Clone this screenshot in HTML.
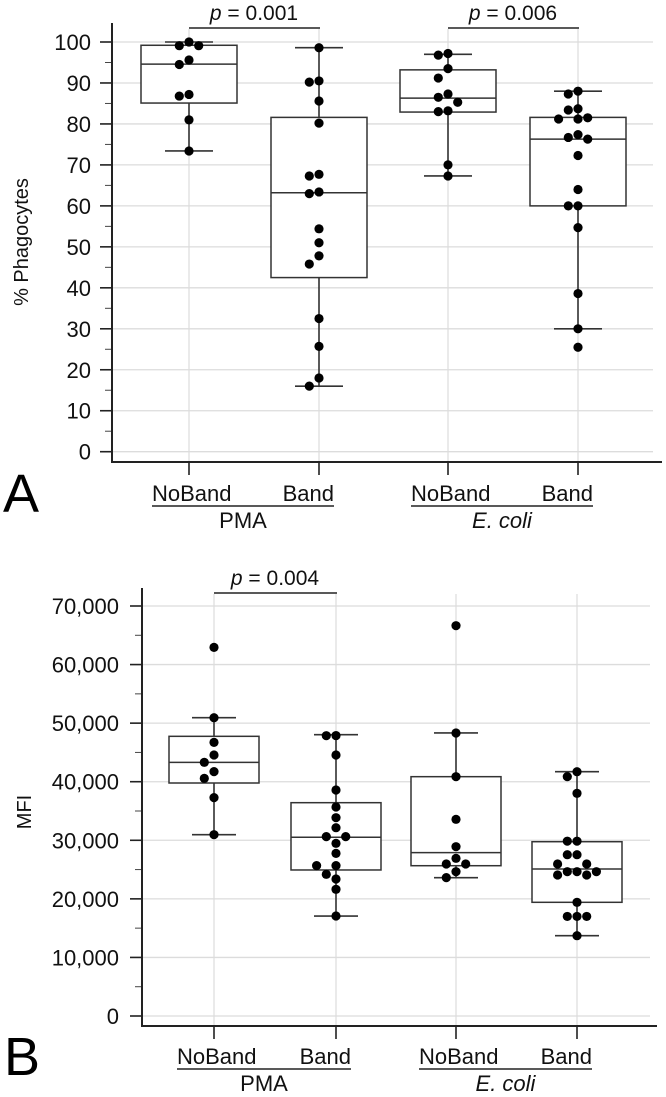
<!DOCTYPE html>
<html><head><meta charset="utf-8">
<style>
html,body{margin:0;padding:0;background:#fff;}
svg{display:block;font-family:"Liberation Sans",Arial,sans-serif;}
</style></head>
<body>
<svg id="chart" width="666" height="1097" viewBox="0 0 666 1097" xmlns="http://www.w3.org/2000/svg"></svg>
<script>
// ---- Data ----
const categories = ["NoBand", "Band", "NoBand", "Band"];
const groups = ["PMA", "E. coli"];
// Panel A: % Phagocytes
const aTicks = [0,10,20,30,40,50,60,70,80,90,100];
const aBoxQ1 = [85.1, 42.5, 82.9, 60.0];
const aBoxMed = [94.6, 63.2, 86.3, 76.3];
const aBoxQ3 = [99.2, 81.6, 93.2, 81.6];
const aWhLo = [73.4, 16.0, 67.3, 30.0];
const aWhHi = [100.0, 98.6, 97.0, 88.0];
const aPts0 = [100, 99.1, 99.1, 95.6, 94.5, 87.2, 86.8, 81.0, 73.4];
const aPts1 = [98.6, 90.5, 90.2, 85.6, 80.2, 67.7, 67.3, 63.4, 63.0, 54.4, 51.0, 47.8, 45.8, 32.5, 25.7, 18.0, 16.0];
const aPts2 = [97.2, 96.8, 93.5, 91.2, 87.3, 86.5, 85.3, 83.2, 83.0, 70.0, 67.3];
const aPts3 = [88.0, 87.3, 83.7, 83.4, 81.5, 81.2, 81.2, 77.4, 76.7, 76.3, 72.3, 64.0, 60.0, 60.0, 54.7, 38.6, 30.0, 25.5];
const aSig = [{from:0,to:1,label:"0.001"},{from:2,to:3,label:"0.006"}];
// Panel B: MFI
const bTicks = [0,10000,20000,30000,40000,50000,60000,70000];
const bBoxQ1 = [39780, 24930, 25660, 19410];
const bBoxMed = [43310, 30510, 27890, 25100];
const bBoxQ3 = [47750, 36420, 40860, 29760];
const bWhLo = [30960, 17070, 23620, 13710];
const bWhHi = [50930, 48030, 48320, 41710];
const bPts0 = [62940, 50930, 46720, 44560, 43310, 41720, 40580, 37280, 30960];
const bPts1 = [47880, 47860, 44560, 38590, 35680, 33860, 32150, 30620, 30620, 29480, 27770, 25670, 25670, 24190, 23390, 21630, 17070];
const bPts2 = [66640, 48320, 40860, 33580, 28910, 26920, 25950, 25950, 24640, 23620];
const bPts3 = [41710, 40860, 38020, 29850, 29850, 27540, 27540, 25950, 25950, 24640, 24640, 24640, 24070, 24070, 19410, 17000, 17000, 17000, 13710];
const bSig = [{from:0,to:1,label:"0.004"}];

const NS = "http://www.w3.org/2000/svg";
const svg = document.getElementById("chart");
function mk(tag, attrs, parent, text){
  const e = document.createElementNS(NS, tag);
  for (const k in attrs) e.setAttribute(k, attrs[k]);
  if (text !== undefined) e.textContent = text;
  (parent||svg).appendChild(e);
  return e;
}
function fmt(v){ return v.toLocaleString("en-US"); }

function panel(cfg){
  const g = mk("g", {});
  
  
  const y = v => cfg.y0 - (v - cfg.vmin) / (cfg.vmax - cfg.vmin) * (cfg.y0 - cfg.y1);
  const x = i => cfg.xs[i];
  cfg.ticks.forEach(t => {
    const l = mk("line", {x1:cfg.axX+1, x2:cfg.gridR, y1:y(t), y2:y(t), stroke:"#dcdcdc", "stroke-width":1.3}, g);
    
    
  });
  cfg.xs.forEach((xx,i) => {
    const l = mk("line", {x1:xx, x2:xx, y1:cfg.axTop+6, y2:cfg.axBot, stroke:"#dcdcdc", "stroke-width":1.2}, g);
    
    
  });
  cfg.ticks.forEach((t,i) => {
    mk("line", {x1:cfg.axX-12, x2:cfg.axX, y1:y(t), y2:y(t), stroke:"#222", "stroke-width":1.6}, g);
    if (i < cfg.ticks.length-1){
      const m = (t + cfg.ticks[i+1]) / 2;
      mk("line", {x1:cfg.axX-7, x2:cfg.axX, y1:y(m), y2:y(m), stroke:"#444", "stroke-width":1}, g);
    }
    const lb = mk("text", {x:cfg.labR, y:y(t)+8, "text-anchor":"end", "font-size":22, fill:"#111"}, g, cfg.tickFmt(t));
    
    
  });
  const ya = mk("line", {x1:cfg.axX, x2:cfg.axX, y1:cfg.axTop, y2:cfg.axBot+1, stroke:"#222", "stroke-width":2}, g);
  
  
  const xa = mk("line", {x1:cfg.axX-1, x2:cfg.axR, y1:cfg.axBot, y2:cfg.axBot, stroke:"#222", "stroke-width":2}, g);
  
  
  cfg.xs.forEach(xx => mk("line", {x1:xx, x2:xx, y1:cfg.axBot, y2:cfg.axBot+13, stroke:"#222", "stroke-width":1.6}, g));
  const yt = mk("text", {x:0, y:0, "text-anchor":"middle", "font-size":20, fill:"#111", transform:`translate(${cfg.titleX},${cfg.titleY}) rotate(-90)`}, g, cfg.title);
  
  
  for (let i=0;i<4;i++){
    const bg = mk("g", {}, g);
    
    
    const xx = x(i);
    mk("line", {x1:xx, x2:xx, y1:y(cfg.whHi[i]), y2:y(cfg.whLo[i]), stroke:"#333", "stroke-width":1.6}, bg);
    mk("line", {x1:xx-cfg.cap, x2:xx+cfg.cap, y1:y(cfg.whHi[i]), y2:y(cfg.whHi[i]), stroke:"#333", "stroke-width":1.6}, bg);
    mk("line", {x1:xx-cfg.cap, x2:xx+cfg.cap, y1:y(cfg.whLo[i]), y2:y(cfg.whLo[i]), stroke:"#333", "stroke-width":1.6}, bg);
    mk("rect", {x:xx-cfg.bw, y:y(cfg.q3[i]), width:cfg.bw*2, height:y(cfg.q1[i])-y(cfg.q3[i]), fill:"#fff", stroke:"#333", "stroke-width":1.5}, bg);
    mk("line", {x1:xx-cfg.bw, x2:xx+cfg.bw, y1:y(cfg.med[i]), y2:y(cfg.med[i]), stroke:"#333", "stroke-width":1.5}, bg);
    const r = 4.6, d = 2*r + 0.5;
    const placed = [];
    cfg.pts[i].forEach(v => {
      const py = y(v);
      let off = 0;
      const cands = [0];
      for (let k=1;k<6;k++){ cands.push(-k*d); cands.push(k*d); }
      for (const c of cands){
        if (!placed.some(p => Math.hypot(p.x-(xx+c), p.y-py) < d)) { off = c; break; }
      }
      placed.push({x:xx+off, y:py});
      const dot = mk("circle", {cx:xx+off, cy:py, r:r, fill:"#000"}, bg);
      
      
    });
  }
  [[0,1],[2,3]].forEach((pair,gi) => {
    const x0 = x(pair[0]) - 37, x1 = x(pair[1]) + 15;
    const c1 = mk("text", {x:x0, y:cfg.catY, "font-size":22, fill:"#111"}, g, categories[pair[0]]);
    
    
    const c2 = mk("text", {x:x1, y:cfg.catY, "font-size":22, "text-anchor":"end", fill:"#111"}, g, categories[pair[1]]);
    
    
    mk("line", {x1:x0, x2:x1, y1:cfg.catY+5, y2:cfg.catY+5, stroke:"#222", "stroke-width":1.5}, g);
    const gl = mk("text", {x:(x0+x1)/2, y:cfg.catY+27, "font-size":22, "text-anchor":"middle", fill:"#111", "font-style": gi===1 ? "italic" : "normal"}, g, groups[gi]);
    
    
  });
  cfg.sig.forEach(s => {
    const sg = mk("g", {}, g);
    
    
    mk("line", {x1:x(s.from), x2:x(s.to)+1, y1:cfg.sigY, y2:cfg.sigY, stroke:"#222", "stroke-width":1.6}, sg);
    const t = mk("text", {x:(x(s.from)+x(s.to))/2, y:cfg.sigY-8, "font-size":21, "text-anchor":"middle", fill:"#111"}, sg);
    mk("tspan", {"font-style":"italic"}, t, "p");
    mk("tspan", {}, t, " = " + s.label);
  });
  const pl = mk("text", {x:cfg.letterX, y:cfg.letterY, "font-size":54, fill:"#000"}, g, cfg.letter);
  
  
}

panel({name:"panel-a", letter:"A", letterX:3, letterY:512, vmin:0, vmax:100, y0:451.7, y1:42,
  ticks:aTicks, tickFmt:v=>String(v), xs:[189,319,448,578], axX:112, axTop:23, axBot:462, axR:662, gridR:653,
  labR:91, title:"% Phagocytes", titleX:28, titleY:242, q1:aBoxQ1, med:aBoxMed, q3:aBoxQ3, whLo:aWhLo, whHi:aWhHi,
  pts:[aPts0,aPts1,aPts2,aPts3], bw:48, cap:24, catY:501, sig:aSig, sigY:28});
panel({name:"panel-b", letter:"B", letterX:4, letterY:1075, vmin:0, vmax:70000, y0:1016, y1:606,
  ticks:bTicks, tickFmt:fmt, xs:[214,336,456,577], axX:142, axTop:588, axBot:1026, axR:657, gridR:650,
  labR:119, title:"MFI", titleX:31, titleY:812, q1:bBoxQ1, med:bBoxMed, q3:bBoxQ3, whLo:bWhLo, whHi:bWhHi,
  pts:[bPts0,bPts1,bPts2,bPts3], bw:45, cap:22, catY:1064, sig:bSig, sigY:593});
</script>
</body></html>
